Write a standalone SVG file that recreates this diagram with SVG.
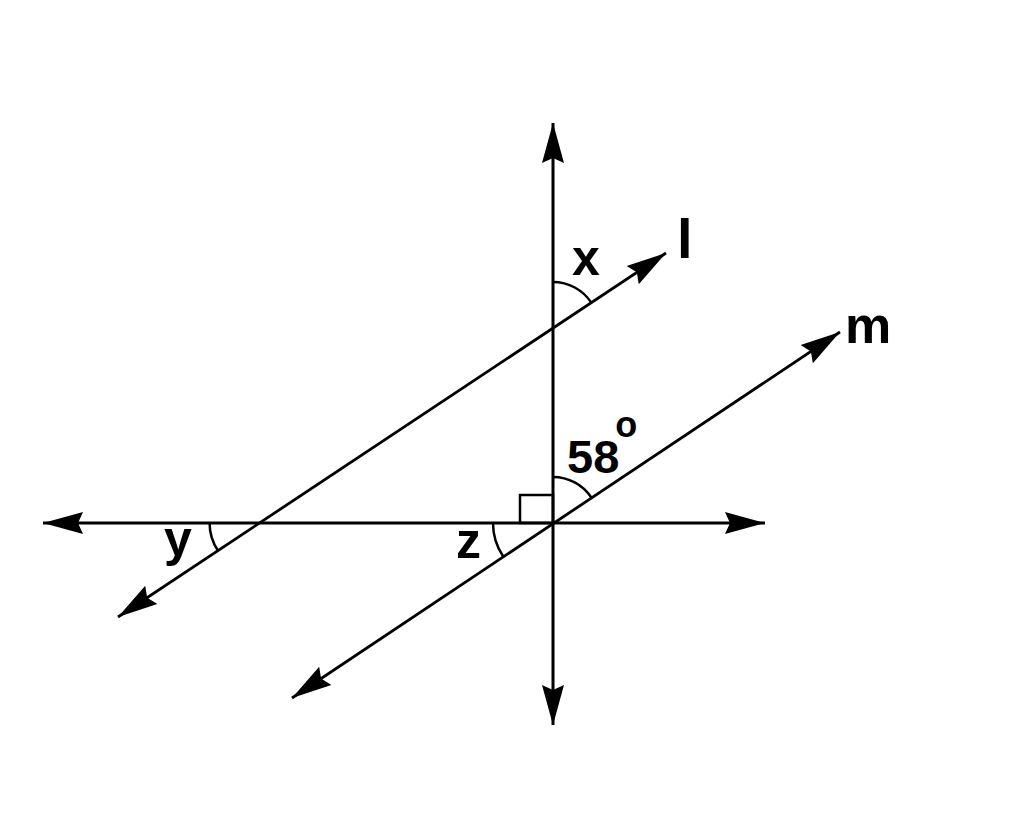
<svg xmlns="http://www.w3.org/2000/svg" width="1024" height="833" viewBox="0 0 1024 833">
  <style>
    .ln { stroke: #000; stroke-width: 3; fill: none; }
    .diag { stroke: #000; stroke-width: 2.8; fill: none; }
    .arc { stroke: #000; stroke-width: 2.5; fill: none; }
    .lbl { font-family: "Liberation Sans", Arial, sans-serif; font-weight: bold; fill: #000; }
  </style>
  <defs>
    <marker id="arrow" markerUnits="userSpaceOnUse" markerWidth="44" markerHeight="26" refX="40" refY="13" orient="auto-start-reverse" viewBox="0 0 44 26">
      <path d="M0,2 L40,13 L0,24 L5,13 Z" fill="#000"/>
    </marker>
  </defs>
  <rect width="1024" height="833" fill="#fff"/>
  <g id="connectors">
    <line id="vertical" class="ln" x1="553" y1="123" x2="553" y2="725" marker-start="url(#arrow)" marker-end="url(#arrow)"/>
    <line id="horizontal" class="ln" x1="43" y1="523" x2="765" y2="523" marker-start="url(#arrow)" marker-end="url(#arrow)"/>
    <line id="line-l" class="diag" x1="118" y1="617" x2="666" y2="253" marker-start="url(#arrow)" marker-end="url(#arrow)"/>
    <line id="line-m" class="diag" x1="292" y1="698" x2="840" y2="332" marker-start="url(#arrow)" marker-end="url(#arrow)"/>
  </g>
  <g id="angle-x">
    <path class="arc" d="M553,282 A46,46 0 0 1 591.3,302.6"/>
    <text class="lbl" x="572" y="275" font-size="50">x</text>
  </g>
  <g id="angle-58">
    <path class="arc" d="M553,477 A46,46 0 0 1 591.3,497.5"/>
    <text class="lbl" x="567" y="473" font-size="47">58<tspan font-size="36" dx="-4" dy="-36">o</tspan></text>
  </g>
  <g id="right-angle">
    <rect class="arc" x="520" y="495" width="33" height="28"/>
  </g>
  <g id="angle-z">
    <path class="arc" d="M493,523 A60,60 0 0 0 503.1,556.3"/>
    <text class="lbl" x="456" y="558" font-size="50">z</text>
  </g>
  <g id="angle-y">
    <path class="arc" d="M209.6,523 A50,50 0 0 0 218,550.7"/>
    <text class="lbl" x="164" y="556" font-size="50">y</text>
  </g>
  <g id="label-l">
    <text class="lbl" x="677" y="258" font-size="56">l</text>
  </g>
  <g id="label-m">
    <text class="lbl" x="845" y="343" font-size="52">m</text>
  </g>
</svg>
